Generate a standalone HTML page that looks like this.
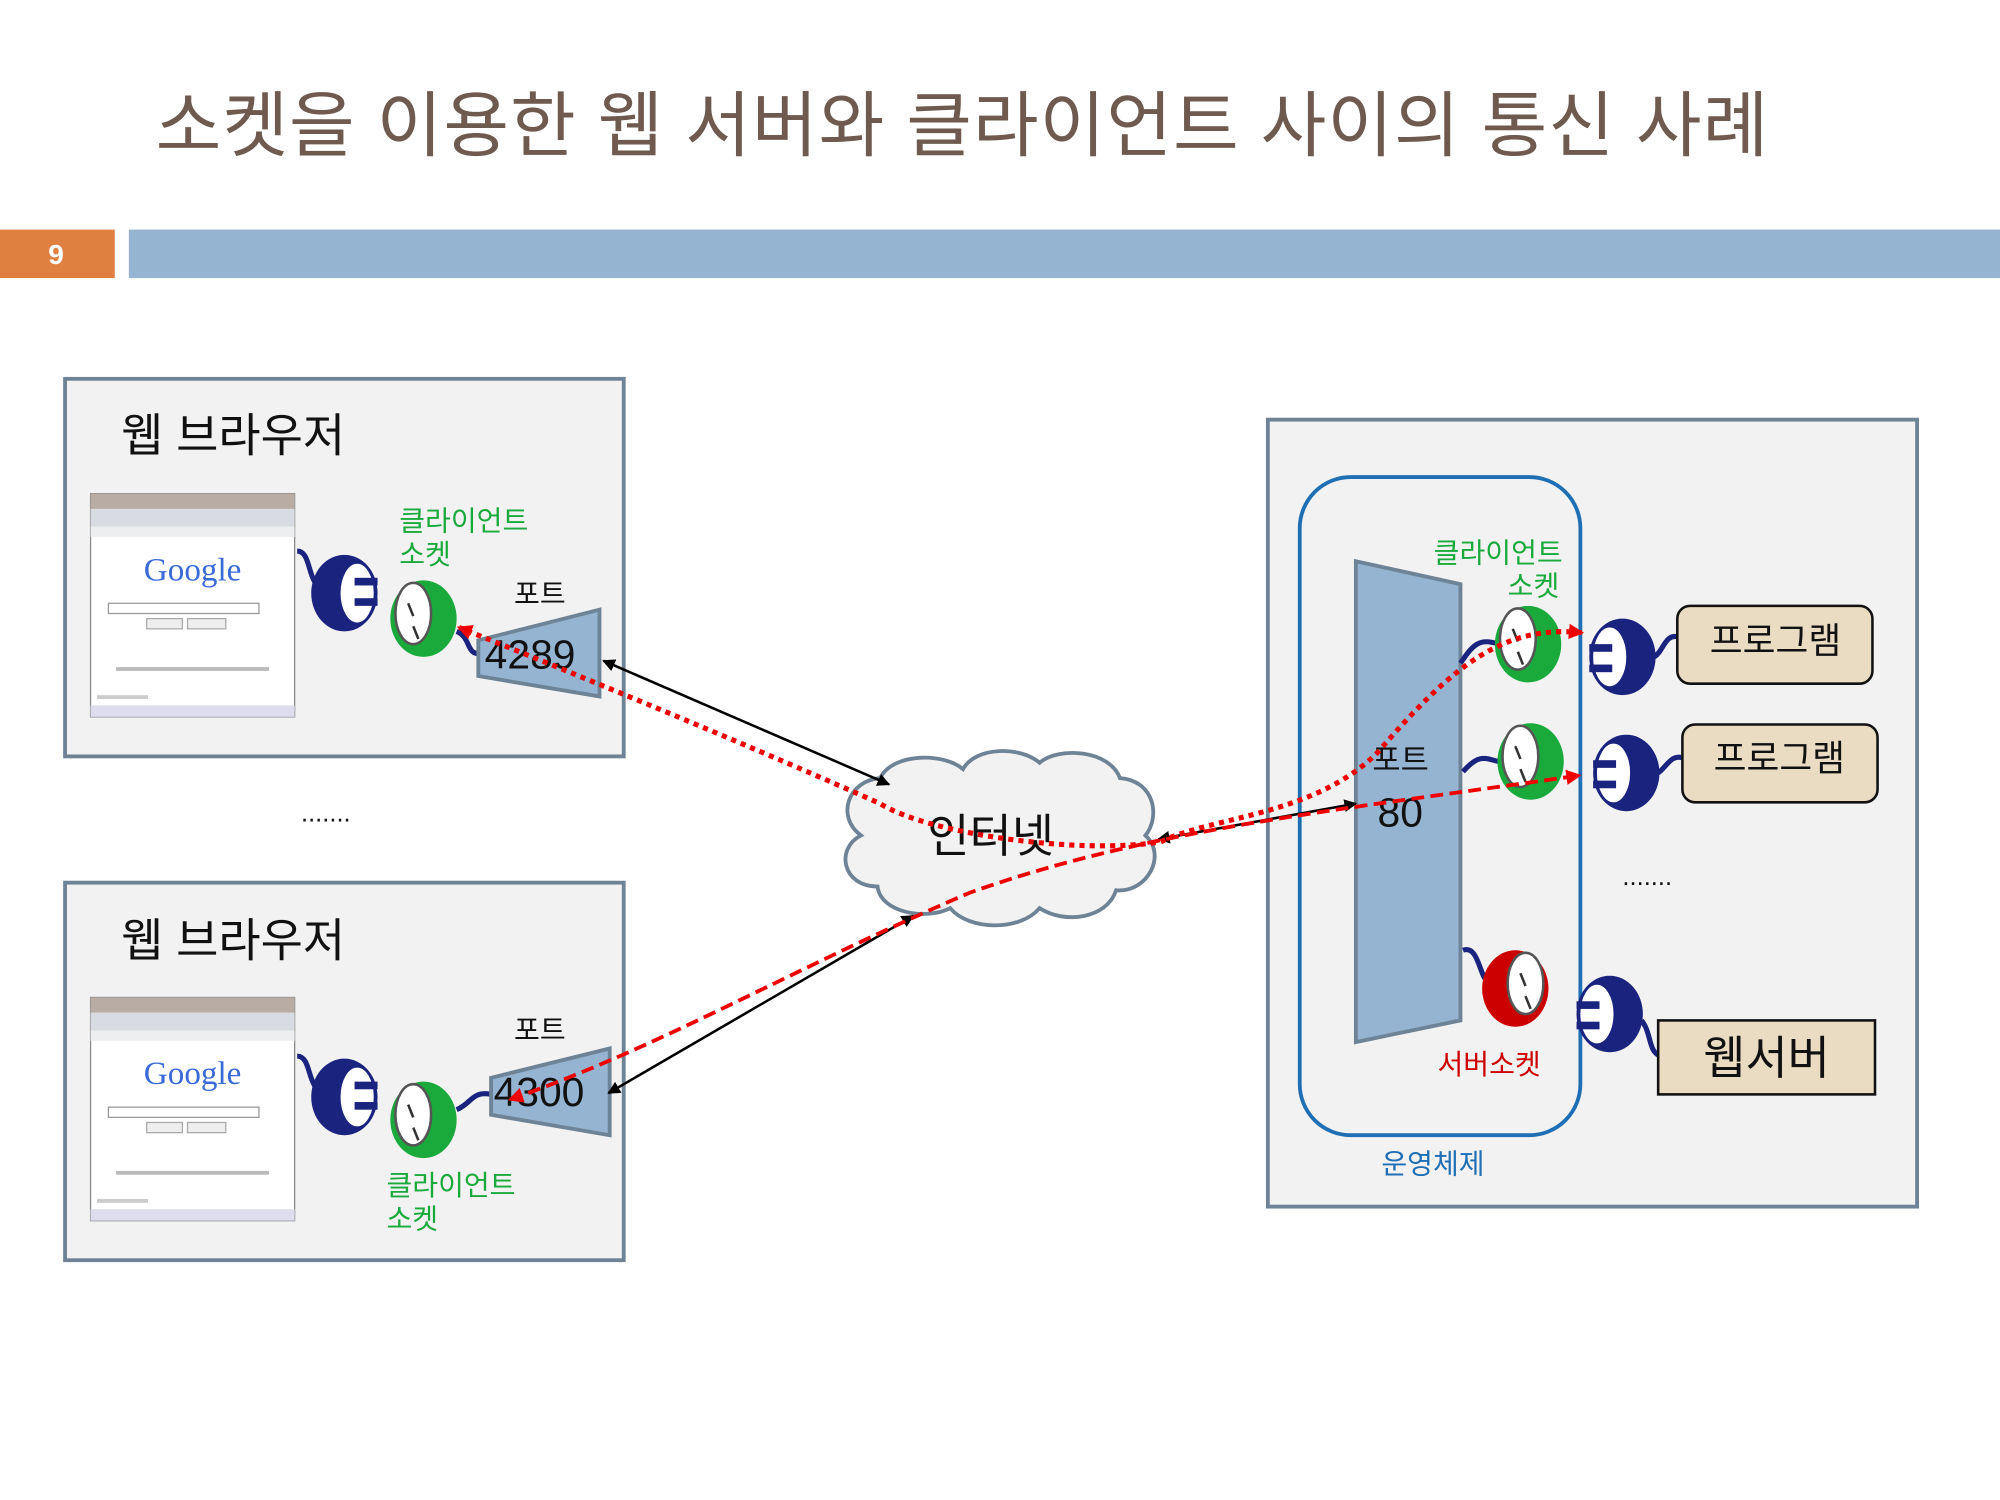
<!DOCTYPE html>
<html><head><meta charset="utf-8"><style>
html,body{margin:0;padding:0;background:#fff;}
svg{display:block;font-family:"Liberation Sans","Noto Sans CJK KR",sans-serif;}
</style></head><body>
<svg width="2000" height="1500" viewBox="0 0 1568 1176" xmlns="http://www.w3.org/2000/svg">
<defs>
<marker id="ab" markerWidth="10" markerHeight="10" refX="9" refY="5" orient="auto-start-reverse" markerUnits="userSpaceOnUse"><path d="M0,0 L10,5 L0,10 z" fill="#000"/></marker>
<marker id="ar" markerWidth="12" markerHeight="12" refX="10" refY="6" orient="auto-start-reverse" markerUnits="userSpaceOnUse"><path d="M0,0 L12,6 L0,12 z" fill="#e00"/></marker>
<g id="plugB">
<ellipse cx="0" cy="0" rx="26" ry="30" fill="#1a237e"/>
<ellipse cx="10" cy="0" rx="14" ry="24" fill="#fff" stroke="#1a237e" stroke-width="2"/>
<rect x="8" y="-12" width="18" height="6" fill="#1a237e"/><rect x="8" y="4" width="18" height="6" fill="#1a237e"/>
</g>
<g id="sockG">
<ellipse cx="0" cy="0" rx="26" ry="30" fill="#1aaa3c"/>
<ellipse cx="-8" cy="-4" rx="14" ry="24" fill="#fff" stroke="#555" stroke-width="2"/>
<line x1="-12" y1="-12" x2="-8" y2="-2" stroke="#333" stroke-width="2"/><line x1="-8" y1="6" x2="-4" y2="16" stroke="#333" stroke-width="2"/>
</g>
<g id="sockR">
<ellipse cx="0" cy="0" rx="26" ry="30" fill="#c00"/>
<ellipse cx="8" cy="-4" rx="14" ry="24" fill="#fff" stroke="#555" stroke-width="2"/>
<line x1="4" y1="-12" x2="8" y2="-2" stroke="#333" stroke-width="2"/><line x1="8" y1="6" x2="12" y2="16" stroke="#333" stroke-width="2"/>
</g>
<g id="shot">
<rect x="0" y="0" width="160" height="175" fill="#fff" stroke="#888"/>
<rect x="0" y="0" width="160" height="12" fill="#b8aca4"/>
<rect x="0" y="12" width="160" height="14" fill="#d8dce2"/>
<rect x="0" y="26" width="160" height="8" fill="#eceef0"/>
<text x="80" y="68" font-family="Liberation Serif,serif" font-size="26" text-anchor="middle" fill="#3a6ad8">Google</text>
<rect x="14" y="86" width="118" height="8" fill="#fff" stroke="#999"/>
<rect x="44" y="98" width="28" height="8" fill="#eee" stroke="#aaa"/><rect x="76" y="98" width="30" height="8" fill="#eee" stroke="#aaa"/>
<rect x="20" y="136" width="120" height="3" fill="#bbb"/>
<rect x="5" y="158" width="40" height="3" fill="#ccc"/>
<rect x="0" y="166" width="160" height="9" fill="#dde"/>
</g>
</defs>

<text x="122" y="118" font-size="56" fill="#6e5a4e" letter-spacing="0.8">소켓을 이용한 웹 서버와 클라이언트 사이의 통신 사례</text>
<rect x="0" y="180" width="90" height="38" fill="#e08040"/>
<text x="44" y="207" font-size="22" font-weight="bold" fill="#fff" text-anchor="middle">9</text>
<rect x="101" y="180" width="1467" height="38" fill="#94b4d2"/>

<rect x="51" y="297" width="438" height="296" fill="#f2f2f2" stroke="#6e8396" stroke-width="3"/>
<text x="95" y="354" font-size="36" fill="#111">웹 브라우저</text>
<use href="#shot" x="71" y="387"/>
<path d="M233,432 C245,432 240,460 255,462" stroke="#1a237e" stroke-width="4" fill="none"/>
<use href="#plugB" x="270" y="465"/>
<use href="#sockG" x="332" y="485"/>
<path d="M358,495 C370,500 365,515 378,512" stroke="#1a237e" stroke-width="4" fill="none"/>
<text x="313" y="416" font-size="22" fill="#1aaa3c">클라이언트</text>
<text x="313" y="442" font-size="22" fill="#1aaa3c">소켓</text>
<text x="403" y="473" font-size="22" fill="#111">포트</text>
<polygon points="375,502 470,478 470,546 375,530" fill="#94b4d2" stroke="#6e8396" stroke-width="3"/>
<text x="380" y="524" font-size="32" fill="#111">4289</text>

<text x="236" y="644" font-size="20" fill="#111">.......</text>

<rect x="51" y="692" width="438" height="296" fill="#f2f2f2" stroke="#6e8396" stroke-width="3"/>
<text x="95" y="750" font-size="36" fill="#111">웹 브라우저</text>
<use href="#shot" x="71" y="782"/>
<path d="M233,828 C245,828 240,855 255,857" stroke="#1a237e" stroke-width="4" fill="none"/>
<use href="#plugB" x="270" y="860"/>
<use href="#sockG" x="332" y="878"/>
<path d="M358,870 C370,865 370,855 385,858" stroke="#1a237e" stroke-width="4" fill="none"/>
<text x="303" y="937" font-size="22" fill="#1aaa3c">클라이언트</text>
<text x="303" y="963" font-size="22" fill="#1aaa3c">소켓</text>
<text x="403" y="815" font-size="22" fill="#111">포트</text>
<polygon points="385,845 478,822 478,890 385,874" fill="#94b4d2" stroke="#6e8396" stroke-width="3"/>
<text x="387" y="867" font-size="32" fill="#111">4300</text>

<path d="M690,610 C700,590 740,590 755,603 C765,585 800,585 815,598 C830,585 870,588 878,610 C905,612 910,640 898,655 C915,670 900,700 875,698 C868,720 835,725 815,712 C800,730 760,730 745,712 C725,722 690,715 688,695 C660,695 655,665 675,655 C655,640 665,612 690,610 Z" fill="#f2f2f2" stroke="#6e8396" stroke-width="3"/>
<text x="727" y="668" font-size="36" fill="#111">인터넷</text>

<rect x="994" y="329" width="509" height="617" fill="#f2f2f2" stroke="#6e8396" stroke-width="3"/>
<rect x="1019" y="374" width="220" height="516" rx="40" fill="none" stroke="#1f6fb5" stroke-width="3"/>
<polygon points="1063,440 1145,458 1145,800 1063,817" fill="#94b4d2" stroke="#6e8396" stroke-width="3"/>
<text x="1076" y="604" font-size="24" fill="#111">포트</text>
<text x="1080" y="648" font-size="32" fill="#111">80</text>
<text x="1124" y="441" font-size="22" fill="#1aaa3c">클라이언트</text>
<text x="1182" y="467" font-size="22" fill="#1aaa3c">소켓</text>
<text x="1127" y="842" font-size="22" fill="#c00">서버소켓</text>
<text x="1083" y="920" font-size="22" fill="#1f6fb5">운영체제</text>

<path d="M1145,520 C1155,505 1160,500 1175,505" stroke="#1a237e" stroke-width="4" fill="none"/>
<use href="#sockG" x="1198" y="505"/>
<use href="#plugB" x="1272" y="515" transform="rotate(180 1272 515)"/>
<path d="M1297,515 C1305,510 1305,495 1318,500" stroke="#1a237e" stroke-width="4" fill="none"/>
<path d="M1147,605 C1160,590 1165,595 1175,597" stroke="#1a237e" stroke-width="4" fill="none"/>
<use href="#sockG" x="1200" y="597"/>
<use href="#plugB" x="1275" y="606" transform="rotate(180 1275 606)"/>
<path d="M1300,606 C1308,600 1310,590 1322,595" stroke="#1a237e" stroke-width="4" fill="none"/>
<path d="M1147,745 C1160,740 1160,770 1168,770" stroke="#1a237e" stroke-width="4" fill="none"/>
<use href="#sockR" x="1188" y="775"/>
<use href="#plugB" x="1262" y="795" transform="rotate(180 1262 795)"/>
<path d="M1287,800 C1295,810 1292,825 1302,828" stroke="#1a237e" stroke-width="4" fill="none"/>

<rect x="1315" y="475" width="153" height="61" rx="10" fill="#eadcc3" stroke="#111" stroke-width="2"/>
<text x="1392" y="512" font-size="28" text-anchor="middle" fill="#111">프로그램</text>
<rect x="1319" y="568" width="153" height="61" rx="10" fill="#eadcc3" stroke="#111" stroke-width="2"/>
<text x="1395" y="604" font-size="28" text-anchor="middle" fill="#111">프로그램</text>
<text x="1272" y="694" font-size="20" fill="#111">.......</text>
<rect x="1300" y="800" width="170" height="58" fill="#eadcc3" stroke="#111" stroke-width="2"/>
<text x="1385" y="842" font-size="36" text-anchor="middle" fill="#111">웹서버</text>

<line x1="473" y1="518" x2="697" y2="615" stroke="#000" stroke-width="2" marker-start="url(#ab)" marker-end="url(#ab)"/>
<line x1="477" y1="857" x2="716" y2="718" stroke="#000" stroke-width="2" marker-start="url(#ab)" marker-end="url(#ab)"/>
<line x1="908" y1="658" x2="1063" y2="630" stroke="#000" stroke-width="2" marker-start="url(#ab)" marker-end="url(#ab)"/>

<path d="M1240,496 C1180,490 1140,520 1080,590 C1030,640 950,640 910,660 C850,670 730,655 690,630 C600,590 480,540 360,492" stroke="#e00" stroke-width="4" stroke-dasharray="4,4" fill="none" marker-start="url(#ar)" marker-end="url(#ar)"/>
<path d="M400,862 C520,820 620,760 760,700 C900,650 1050,635 1238,608" stroke="#e00" stroke-width="3" stroke-dasharray="10,5" fill="none" marker-start="url(#ar)" marker-end="url(#ar)"/>
</svg>
</body></html>
